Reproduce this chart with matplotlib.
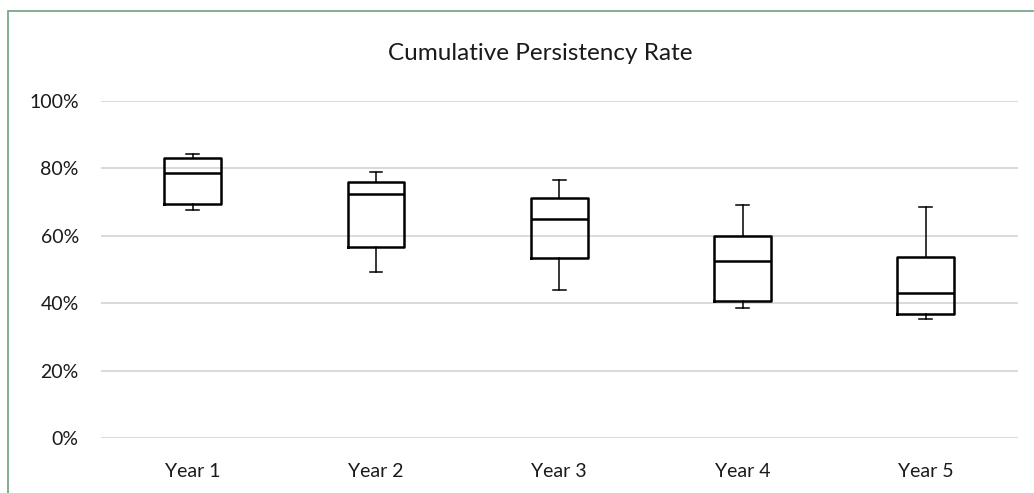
import matplotlib.pyplot as plt
from matplotlib.patches import Rectangle
from matplotlib.ticker import PercentFormatter

plt.rcParams['font.family'] = ['Lato', 'DejaVu Sans']

# 各年份的箱线图数值（百分比）
years = ["Year 1", "Year 2", "Year 3", "Year 4", "Year 5"]
whislo = [67.6, 49.2, 43.9, 38.6, 35.3]
q1 = [69.4, 56.8, 53.3, 40.8, 36.7]
med = [78.7, 72.3, 65.0, 52.5, 43.1]
q3 = [83.0, 75.9, 71.3, 59.9, 53.8]
whishi = [84.4, 78.8, 76.5, 69.1, 68.6]

stats = []
for i in range(len(years)):
    stats.append({"label": years[i], "whislo": whislo[i], "q1": q1[i],
                  "med": med[i], "q3": q3[i], "whishi": whishi[i], "fliers": []})

fig = plt.figure(figsize=(10.34, 4.93), dpi=100)
ax = fig.add_axes([101 / 1034, 1 - 438 / 493, (1017.5 - 101) / 1034, 337 / 493])

ax.bxp(stats, positions=range(len(years)), widths=0.31, showfliers=False,
       boxprops=dict(color="black", linewidth=1.8),
       medianprops=dict(color="black", linewidth=1.8),
       whiskerprops=dict(color="black", linewidth=1.1),
       capprops=dict(color="black", linewidth=1.1),
       capwidths=0.07)

ax.set_xlim(-0.5, len(years) - 0.5)
ax.set_ylim(0, 100)
ax.set_yticks([0, 20, 40, 60, 80, 100])
ax.yaxis.set_major_formatter(PercentFormatter(decimals=0))
ax.set_xticks(range(len(years)))
ax.set_xticklabels(years)
ax.tick_params(axis="y", length=0, pad=16, labelsize=14, labelcolor="#1a1a1a")
ax.tick_params(axis="x", length=0, pad=18, labelsize=14, labelcolor="#1a1a1a")
ax.grid(axis="y", color="#d9d9d9", linewidth=1.4)
ax.set_axisbelow(True)
for s in ax.spines.values():
    s.set_visible(False)

fig.text(540 / 1034, 1 - 53 / 493, "Cumulative Persistency Rate",
         ha="center", va="center", fontsize=17.5, color="#1a1a1a")

# 外框（绿色）
fig.patches.append(Rectangle((7.5 / 1034, -0.1), 1.5, 0.1 + 1 - 11 / 493,
                             transform=fig.transFigure, fill=False,
                             edgecolor="#6f9f80", linewidth=1.2))

fig.savefig("out.png", dpi=100)
